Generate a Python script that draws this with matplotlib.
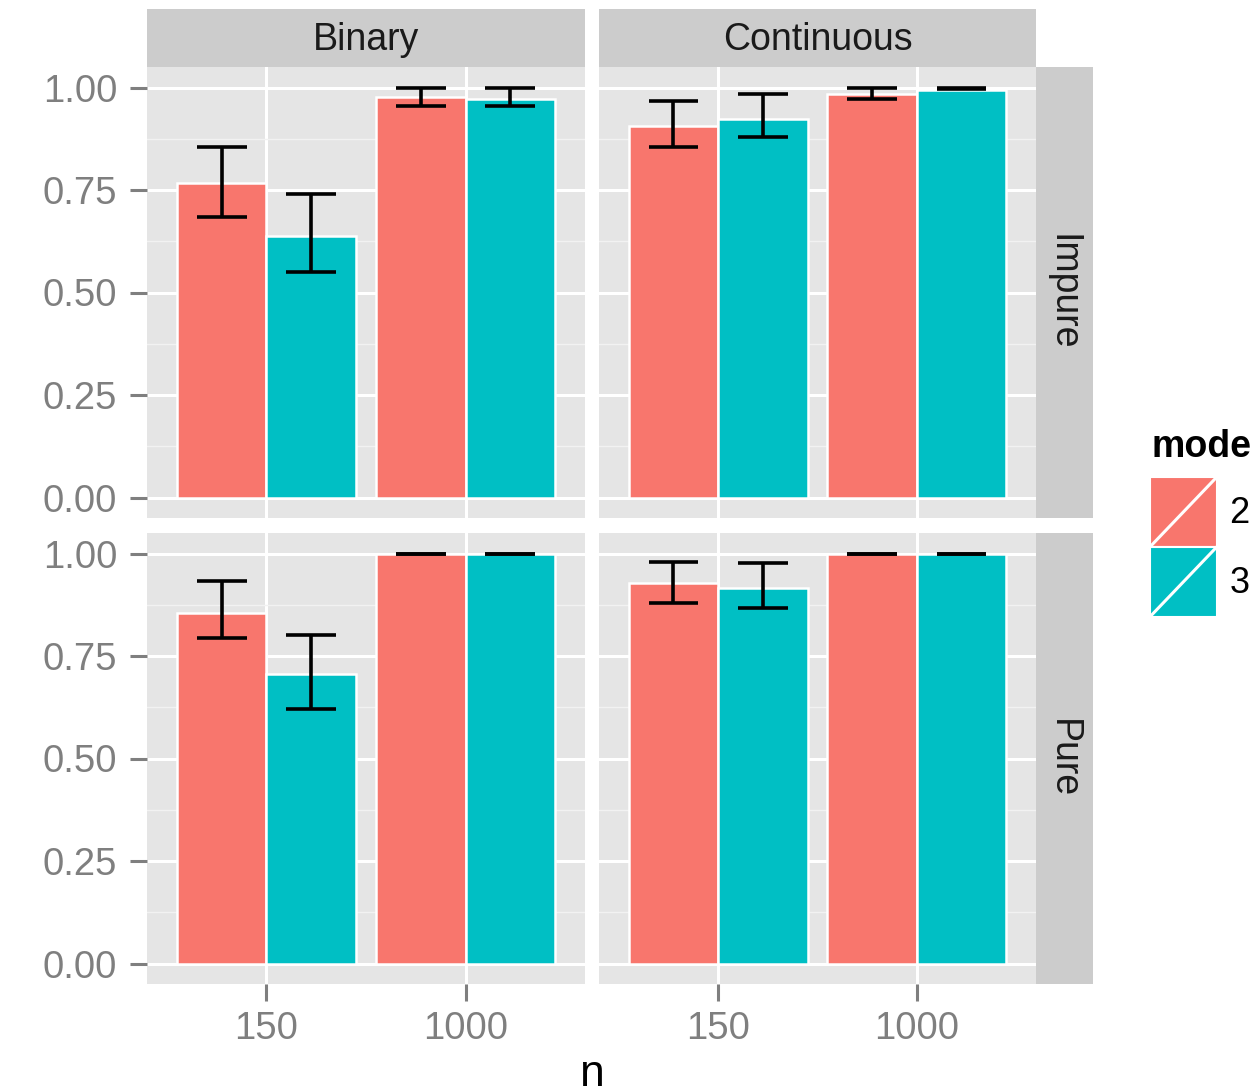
import numpy as np
import matplotlib
matplotlib.use("Agg")
import matplotlib.pyplot as plt
from matplotlib.patches import Patch, Rectangle
from matplotlib.lines import Line2D
from matplotlib.legend_handler import HandlerPatch

plt.rcParams['font.family'] = ['Liberation Sans', 'DejaVu Sans']

n_levels = ['150', '1000']
modes = ['2', '3']
col_labels = ['Binary', 'Continuous']
row_labels = ['Impure', 'Pure']
mode_colors = ['#F8766D', '#00BFC4']

# mean proportion for each panel (row, col), per mode, per n
binary_impure_m2 = [0.766, 0.976]
binary_impure_m3 = [0.639, 0.973]
binary_impure_lo2 = [0.685, 0.954]
binary_impure_hi2 = [0.856, 1.000]
binary_impure_lo3 = [0.551, 0.954]
binary_impure_hi3 = [0.741, 1.000]

cont_impure_m2 = [0.905, 0.985]
cont_impure_m3 = [0.924, 0.995]
cont_impure_lo2 = [0.854, 0.971]
cont_impure_hi2 = [0.968, 1.000]
cont_impure_lo3 = [0.880, 0.997]
cont_impure_hi3 = [0.983, 1.000]

binary_pure_m2 = [0.856, 1.000]
binary_pure_m3 = [0.705, 1.000]
binary_pure_lo2 = [0.793, 1.000]
binary_pure_hi2 = [0.932, 1.000]
binary_pure_lo3 = [0.620, 1.000]
binary_pure_hi3 = [0.802, 1.000]

cont_pure_m2 = [0.929, 1.000]
cont_pure_m3 = [0.915, 1.000]
cont_pure_lo2 = [0.880, 1.000]
cont_pure_hi2 = [0.980, 1.000]
cont_pure_lo3 = [0.868, 1.000]
cont_pure_hi3 = [0.976, 1.000]

panels = {
    ('Impure', 'Binary'): ([binary_impure_m2, binary_impure_m3],
                           [binary_impure_lo2, binary_impure_lo3],
                           [binary_impure_hi2, binary_impure_hi3]),
    ('Impure', 'Continuous'): ([cont_impure_m2, cont_impure_m3],
                               [cont_impure_lo2, cont_impure_lo3],
                               [cont_impure_hi2, cont_impure_hi3]),
    ('Pure', 'Binary'): ([binary_pure_m2, binary_pure_m3],
                         [binary_pure_lo2, binary_pure_lo3],
                         [binary_pure_hi2, binary_pure_hi3]),
    ('Pure', 'Continuous'): ([cont_pure_m2, cont_pure_m3],
                             [cont_pure_lo2, cont_pure_lo3],
                             [cont_pure_hi2, cont_pure_hi3]),
}

W, H = 1251, 1088
fig = plt.figure(figsize=(W / 100, H / 100), dpi=100)


def box(x0, y0, x1, y1):
    """pixel box (top-left origin) -> figure fraction rect"""
    return [x0 / W, 1 - y1 / H, (x1 - x0) / W, (y1 - y0) / H]


col_x = [(147, 585), (599, 1036)]
row_y = [(67, 518), (533, 984)]
strip_top = (9, 67)
strip_right = (1036, 1093)

grey_txt = '#7F7F7F'
x = np.arange(1, len(n_levels) + 1)
dodge = 0.45

for r, row in enumerate(row_labels):
    for c, col in enumerate(col_labels):
        ax = fig.add_axes(box(col_x[c][0], row_y[r][0], col_x[c][1], row_y[r][1]))
        ax.set_facecolor('#E5E5E5')
        for s in ax.spines.values():
            s.set_visible(False)
        means, los, his = panels[(row, col)]
        for k in range(len(modes)):
            xpos = x + (k - 0.5) * dodge
            ax.bar(xpos, means[k], width=dodge, color=mode_colors[k],
                   edgecolor='white', linewidth=1.8, zorder=3)
            ax.vlines(xpos, los[k], his[k], color='black', linewidth=2.6, zorder=4)
            ax.hlines(los[k], xpos - 0.125, xpos + 0.125, color='black', linewidth=2.6, zorder=4)
            ax.hlines(his[k], xpos - 0.125, xpos + 0.125, color='black', linewidth=2.6, zorder=4)
        ax.set_xlim(0.4, 2.6)
        ax.set_ylim(-0.05, 1.05)
        ax.set_yticks([0, 0.25, 0.5, 0.75, 1.0])
        ax.set_yticks([0.125, 0.375, 0.625, 0.875], minor=True)
        ax.set_xticks(x)
        ax.grid(which='major', color='white', linewidth=2.2, zorder=1)
        ax.grid(which='minor', axis='y', color='#F2F2F2', linewidth=1.0, zorder=1)
        ax.set_axisbelow(True)
        ax.tick_params(which='minor', length=0)
        ax.tick_params(which='major', color=grey_txt, width=2.2, length=12.5,
                       labelsize=27.5, labelcolor=grey_txt)
        ax.tick_params(axis='y', pad=9)
        ax.tick_params(axis='x', pad=7)
        if c == 0:
            ax.set_yticklabels(['0.00', '0.25', '0.50', '0.75', '1.00'])
        else:
            ax.tick_params(axis='y', length=0, labelleft=False)
        if r == 1:
            ax.set_xticklabels(n_levels)
        else:
            ax.tick_params(axis='x', length=0, labelbottom=False)

# column strips
for c, col in enumerate(col_labels):
    sa = fig.add_axes(box(col_x[c][0], strip_top[0], col_x[c][1], strip_top[1]))
    sa.set_facecolor('#CCCCCC')
    sa.set_xticks([])
    sa.set_yticks([])
    for s in sa.spines.values():
        s.set_visible(False)
    sa.text(0.5, 0.47, col, transform=sa.transAxes, ha='center', va='center',
            fontsize=27, color='#1A1A1A')

# row strips
for r, row in enumerate(row_labels):
    sa = fig.add_axes(box(strip_right[0], row_y[r][0], strip_right[1], row_y[r][1]))
    sa.set_facecolor('#CCCCCC')
    sa.set_xticks([])
    sa.set_yticks([])
    for s in sa.spines.values():
        s.set_visible(False)
    sa.text(0.47, 0.5, row, transform=sa.transAxes, ha='center', va='center',
            rotation=270, fontsize=27, color='#1A1A1A')

fig.text(592 / W, 1 - 1086 / H, 'n', ha='center', va='baseline', fontsize=32)


class SlashHandler(HandlerPatch):
    def create_artists(self, legend, orig_handle, xdescent, ydescent, width, height, fontsize, trans):
        rect = Rectangle((-xdescent, -ydescent), width, height,
                         facecolor=orig_handle.get_facecolor(), edgecolor='white',
                         linewidth=1.5, transform=trans)
        line = Line2D([-xdescent, -xdescent + width], [-ydescent, -ydescent + height],
                      color='white', linewidth=2.2, transform=trans)
        return [rect, line]


# legend title placed on its own, keys below it
fig.text(1151 / W, 1 - 447 / H, 'mode', ha='left', va='center',
         fontsize=27, fontweight='bold')
handles = [Patch(facecolor=mode_colors[k], label=modes[k]) for k in range(len(modes))]
leg = fig.legend(handles=handles, loc='upper left',
                 bbox_to_anchor=(1150 / W, 1 - 477 / H), frameon=False,
                 fontsize=26, handlelength=1.85, handleheight=2.6, handletextpad=0.35,
                 labelspacing=0.0, borderpad=0, borderaxespad=0,
                 handler_map={Patch: SlashHandler()})

fig.savefig('out.png', dpi=100)
